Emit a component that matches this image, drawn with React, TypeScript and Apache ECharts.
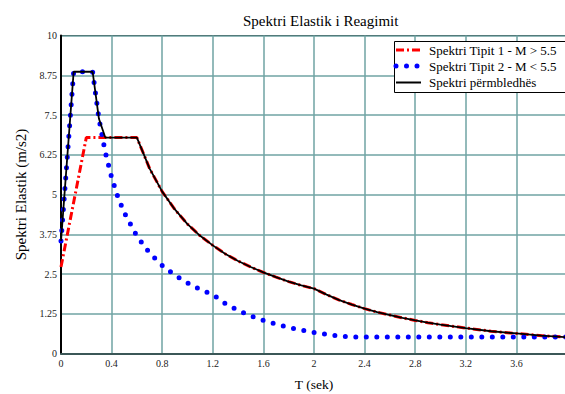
import React, { useEffect, useRef } from "react";
import * as echarts from "echarts";

const titleText = "Spektri Elastik i Reagimit";
const xName = "T (sek)";
const yName = "Spektri Elastik (m/s2)";
const seriesNames = ["Spektri Tipit 1 - M > 5.5", "Spektri Tipit 2 - M < 5.5", "Spektri përmbledhës"];

// Type 1 spectrum (red dash-dot)
const periods1 = [0, 0.2, 0.6, 0.7, 0.8, 0.9, 1.0, 1.1, 1.2, 1.3, 1.4, 1.5, 1.6, 1.7, 1.8, 1.9, 2.0, 2.1, 2.2, 2.3, 2.4, 2.5, 2.6, 2.7, 2.8, 2.9, 3.0, 3.2, 3.4, 3.6, 3.8, 4.0];
const values1 = [2.72, 6.79, 6.79, 5.82, 5.09, 4.53, 4.07, 3.70, 3.40, 3.13, 2.91, 2.72, 2.55, 2.40, 2.26, 2.14, 2.04, 1.85, 1.68, 1.54, 1.41, 1.30, 1.21, 1.12, 1.04, 0.97, 0.91, 0.80, 0.70, 0.63, 0.56, 0.51];

// Type 2 spectrum (blue dotted)
const periods2 = [0, 0.1, 0.25, 0.3, 0.35, 0.4, 0.45, 0.5, 0.6, 0.7, 0.8, 0.9, 1.0, 1.1, 1.2, 1.3, 1.4, 1.5, 1.6, 1.7, 1.8, 1.9, 2.0, 2.1, 2.2, 2.3, 4.0];
const values2 = [3.54, 8.86, 8.86, 7.38, 6.33, 5.54, 4.92, 4.43, 3.69, 3.16, 2.77, 2.46, 2.22, 2.01, 1.85, 1.57, 1.36, 1.18, 1.04, 0.92, 0.82, 0.74, 0.66, 0.60, 0.55, 0.52, 0.52];

// Summary envelope (black)
const periodsSum = [0, 0.1, 0.25, 0.3, 0.35, 0.6, 0.7, 0.8, 0.9, 1.0, 1.1, 1.2, 1.3, 1.4, 1.5, 1.6, 1.7, 1.8, 1.9, 2.0, 2.1, 2.2, 2.3, 2.4, 2.5, 2.6, 2.7, 2.8, 2.9, 3.0, 3.2, 3.4, 3.6, 3.8, 4.0];
const valuesSum = [3.54, 8.86, 8.86, 7.38, 6.79, 6.79, 5.82, 5.09, 4.53, 4.07, 3.70, 3.40, 3.13, 2.91, 2.72, 2.55, 2.40, 2.26, 2.14, 2.04, 1.85, 1.68, 1.54, 1.41, 1.30, 1.21, 1.12, 1.04, 0.97, 0.91, 0.80, 0.70, 0.63, 0.56, 0.51];

const FONT = "Liberation Serif";

const pairs = (xs: number[], ys: number[]) => xs.map((x, i) => [x, ys[i]]);

const RED_DASH = [8, 3, 2, 3];
const BLUE_DOT = [0, 10.5];

export default function App() {
  const ref = useRef<HTMLDivElement>(null);
  useEffect(() => {
    if (!ref.current) return;
    const chart = echarts.init(ref.current, undefined, { renderer: "svg" });
    const gridColor = "#6fa3a3";
    const lx0 = 396;
    const lx1 = 421;
    const rows = [50, 66, 82.5];
    const legendText = (i: number) => ({
      type: "text",
      x: 429,
      y: rows[i],
      z: 101,
      style: { text: seriesNames[i], font: `13px ${FONT}`, fill: "#000", textVerticalAlign: "middle", verticalAlign: "middle" },
    });
    chart.setOption({
      animation: false,
      backgroundColor: "#ffffff",
      title: {
        text: titleText,
        left: 238,
        top: 8,
        textStyle: { fontFamily: FONT, fontSize: 15, fontWeight: "normal", color: "#000" },
      },
      graphic: [
        {
          type: "rect",
          z: 100,
          shape: { x: 394.5, y: 41.5, width: 220, height: 51 },
          style: { fill: "#ffffff", stroke: "#000", lineWidth: 1 },
        },
        {
          type: "line",
          z: 101,
          shape: { x1: lx0, y1: rows[0], x2: lx1, y2: rows[0] },
          style: { stroke: "#ff0000", lineWidth: 3, lineDash: RED_DASH },
        },
        {
          type: "line",
          z: 101,
          shape: { x1: lx0, y1: rows[1], x2: lx1 - 3, y2: rows[1] },
          style: { stroke: "#0000ff", lineWidth: 5, lineDash: BLUE_DOT, lineCap: "round" },
        },
        {
          type: "line",
          z: 101,
          shape: { x1: lx0, y1: rows[2], x2: lx1, y2: rows[2] },
          style: { stroke: "#000000", lineWidth: 2 },
        },
        legendText(0),
        legendText(1),
        legendText(2),
      ],
      grid: {
        left: 61,
        top: 35.5,
        width: 506,
        height: 318,
        show: true,
        borderColor: "#000",
        borderWidth: 1,
        backgroundColor: "transparent",
        containLabel: false,
        outerBoundsMode: "none",
      },
      xAxis: {
        type: "value",
        min: 0,
        max: 4,
        interval: 0.4,
        name: xName,
        nameLocation: "middle",
        nameGap: 24,
        nameTextStyle: { fontFamily: FONT, fontSize: 13.5, color: "#000" },
        axisLine: { show: true, lineStyle: { color: "#3b5757", width: 2 } },
        axisTick: { show: false },
        axisLabel: { fontFamily: FONT, fontSize: 10, color: "#222", margin: 5, showMaxLabel: false },
        splitLine: { show: true, lineStyle: { color: gridColor, width: 1.5 } },
      },
      yAxis: {
        type: "value",
        min: 0,
        max: 10,
        interval: 1.25,
        name: yName,
        nameLocation: "middle",
        nameGap: 31,
        nameTextStyle: { fontFamily: FONT, fontSize: 15, color: "#000" },
        axisLine: { show: true, lineStyle: { color: "#000", width: 2 } },
        axisTick: { show: false },
        axisLabel: { fontFamily: FONT, fontSize: 10, color: "#222", margin: 4 },
        splitLine: { show: true, lineStyle: { color: gridColor, width: 1.5 } },
      },
      series: [
        {
          name: seriesNames[0],
          type: "line",
          data: pairs(periods1, values1),
          showSymbol: false,
          symbol: "none",
          lineStyle: { color: "#ff0000", width: 3, type: RED_DASH },
          itemStyle: { color: "#ff0000" },
          z: 2,
        },
        {
          name: seriesNames[1],
          type: "line",
          data: pairs(periods2, values2),
          showSymbol: false,
          symbol: "none",
          lineStyle: { color: "#0000ff", width: 5, type: BLUE_DOT, cap: "round" },
          itemStyle: { color: "#0000ff" },
          z: 3,
        },
        {
          name: seriesNames[2],
          type: "line",
          data: pairs(periodsSum, valuesSum),
          showSymbol: false,
          symbol: "none",
          lineStyle: { color: "#000000", width: 1.8 },
          itemStyle: { color: "#000000" },
          z: 4,
        },
      ],
    });
    return () => chart.dispose();
  }, []);
  return (
    <div style={{ position: "fixed", left: 0, top: 0, width: 565, height: 394, overflow: "hidden", background: "#fff" }}>
      <div ref={ref} style={{ width: 585, height: 394 }} />
    </div>
  );
}
